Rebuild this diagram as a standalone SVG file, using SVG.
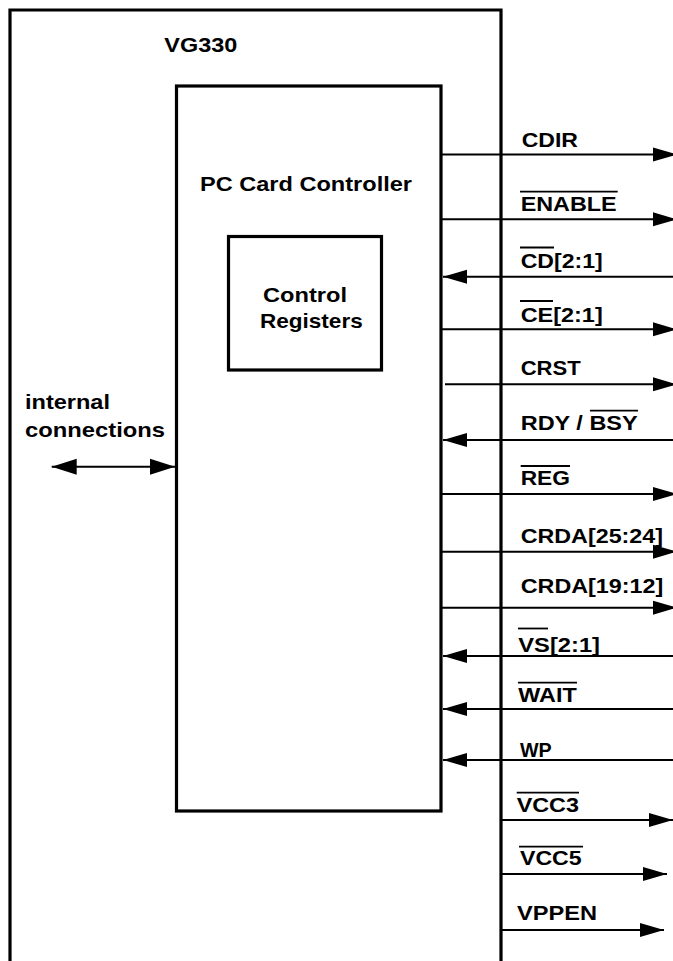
<svg xmlns="http://www.w3.org/2000/svg" width="673" height="961" viewBox="0 0 673 961">
<style>
.box{fill:none;stroke:#000;stroke-width:3.2}
.sig{fill:none;stroke:#000;stroke-width:2}
.t{font-family:"Liberation Sans",Arial,Helvetica,sans-serif;font-weight:bold;font-size:21px;fill:#000}
.ov{stroke:#000;stroke-width:1.8}
</style>
<defs>
<marker id="ah" markerUnits="userSpaceOnUse" markerWidth="24" markerHeight="14" refX="24" refY="7" orient="auto" overflow="visible">
<path d="M0,0 L24,7 L0,14 z" fill="#000"/>
</marker>
<marker id="ah2" markerUnits="userSpaceOnUse" markerWidth="25" markerHeight="16" refX="25" refY="8" orient="auto-start-reverse" overflow="visible">
<path d="M0,0 L25,8 L0,16 z" fill="#000"/>
</marker>
</defs>
<rect width="673" height="961" fill="#fff"/>

<g id="vg330">
<path class="box" d="M10,961 V10 H501 V961"/>
<text class="t" x="164.3" y="51.7" textLength="73" lengthAdjust="spacingAndGlyphs">VG330</text>
</g>

<g id="pc-card-controller">
<rect class="box" x="176.5" y="86" width="264.5" height="725"/>
<text class="t" x="200" y="190.7" textLength="212" lengthAdjust="spacingAndGlyphs">PC Card Controller</text>
</g>

<g id="control-registers">
<rect class="box" x="228.5" y="236.5" width="153" height="133.5"/>
<text class="t" x="263" y="301.7" textLength="84" lengthAdjust="spacingAndGlyphs">Control</text>
<text class="t" x="260" y="327.7" textLength="102.7" lengthAdjust="spacingAndGlyphs">Registers</text>
</g>

<g id="internal-connections">
<text class="t" x="25" y="409.3" textLength="85" lengthAdjust="spacingAndGlyphs">internal</text>
<text class="t" x="25" y="436.7" textLength="140" lengthAdjust="spacingAndGlyphs">connections</text>
</g>

<g id="connectors">
<line class="sig" x1="51.7" y1="466.7" x2="175" y2="466.7" marker-start="url(#ah2)" marker-end="url(#ah2)"/>
<line class="sig" x1="441" y1="154.5" x2="677" y2="154.5" marker-end="url(#ah)"/>
<line class="sig" x1="441" y1="219.3" x2="677" y2="219.3" marker-end="url(#ah)"/>
<line class="sig" x1="673" y1="276.7" x2="443" y2="276.7" marker-end="url(#ah)"/>
<line class="sig" x1="441" y1="329.3" x2="677" y2="329.3" marker-end="url(#ah)"/>
<line class="sig" x1="445" y1="384.3" x2="677" y2="384.3" marker-end="url(#ah)"/>
<line class="sig" x1="673" y1="440" x2="443" y2="440" marker-end="url(#ah)"/>
<line class="sig" x1="441" y1="494" x2="677" y2="494" marker-end="url(#ah)"/>
<line class="sig" x1="441" y1="551.7" x2="677" y2="551.7" marker-end="url(#ah)"/>
<line class="sig" x1="441" y1="607.7" x2="677" y2="607.7" marker-end="url(#ah)"/>
<line class="sig" x1="673" y1="656" x2="443" y2="656" marker-end="url(#ah)"/>
<line class="sig" x1="673" y1="709" x2="443" y2="709" marker-end="url(#ah)"/>
<line class="sig" x1="673" y1="760" x2="443" y2="760" marker-end="url(#ah)"/>
<line class="sig" x1="501" y1="820" x2="673" y2="820" marker-end="url(#ah)"/>
<line class="sig" x1="501" y1="874" x2="667" y2="874" marker-end="url(#ah)"/>
<line class="sig" x1="501" y1="930" x2="664" y2="930" marker-end="url(#ah)"/>
</g>

<g id="signal-labels">
<text class="t" x="521.7" y="146.7" textLength="56.3" lengthAdjust="spacingAndGlyphs">CDIR</text>
<text class="t" x="520.7" y="210.7" textLength="96" lengthAdjust="spacingAndGlyphs">ENABLE</text>
<line class="ov" x1="520" y1="191.7" x2="617.7" y2="191.7"/>
<text class="t" x="520.7" y="267.7" textLength="82" lengthAdjust="spacingAndGlyphs">CD[2:1]</text>
<line class="ov" x1="520" y1="247.5" x2="554" y2="247.5"/>
<text class="t" x="520.7" y="321.7" textLength="82" lengthAdjust="spacingAndGlyphs">CE[2:1]</text>
<line class="ov" x1="520" y1="301" x2="553" y2="301"/>
<text class="t" x="520.7" y="375" textLength="60" lengthAdjust="spacingAndGlyphs">CRST</text>
<text class="t" x="520.7" y="430" textLength="117" lengthAdjust="spacingAndGlyphs">RDY / BSY</text>
<line class="ov" x1="590" y1="410.7" x2="638" y2="410.7"/>
<text class="t" x="520.7" y="485" textLength="49.3" lengthAdjust="spacingAndGlyphs">REG</text>
<line class="ov" x1="520.7" y1="466" x2="570" y2="466"/>
<text class="t" x="520.7" y="542.7" textLength="142.3" lengthAdjust="spacingAndGlyphs">CRDA[25:24]</text>
<text class="t" x="520.7" y="592.5" textLength="142.6" lengthAdjust="spacingAndGlyphs">CRDA[19:12]</text>
<text class="t" x="518.3" y="651.7" textLength="81.7" lengthAdjust="spacingAndGlyphs">VS[2:1]</text>
<line class="ov" x1="518" y1="628.5" x2="548" y2="628.5"/>
<text class="t" x="518.3" y="701.7" textLength="58.4" lengthAdjust="spacingAndGlyphs">WAIT</text>
<line class="ov" x1="518" y1="682.7" x2="577" y2="682.7"/>
<text class="t" x="520" y="756.7" textLength="31.7" lengthAdjust="spacingAndGlyphs">WP</text>
<text class="t" x="516.7" y="811.7" textLength="62.3" lengthAdjust="spacingAndGlyphs">VCC3</text>
<line class="ov" x1="516.7" y1="792.7" x2="579" y2="792.7"/>
<text class="t" x="520" y="865" textLength="61.7" lengthAdjust="spacingAndGlyphs">VCC5</text>
<line class="ov" x1="519" y1="846.7" x2="583" y2="846.7"/>
<text class="t" x="517" y="920" textLength="80" lengthAdjust="spacingAndGlyphs">VPPEN</text>
</g>
</svg>
